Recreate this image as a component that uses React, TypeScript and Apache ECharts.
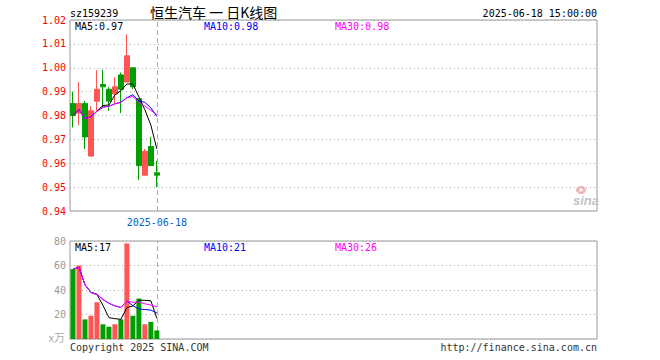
import React, { useEffect, useRef } from "react";
import * as echarts from "echarts";

const dates = ["2025-05-28", "2025-05-29", "2025-05-30", "2025-06-03", "2025-06-04", "2025-06-05", "2025-06-06", "2025-06-09", "2025-06-10", "2025-06-11", "2025-06-12", "2025-06-13", "2025-06-16", "2025-06-17", "2025-06-18"];
const opens = [0.985, 0.981, 0.985, 0.963, 0.986, 0.993, 0.991, 0.989, 0.997, 0.994, 1.0, 0.987, 0.955, 0.967, 0.956];
const closes = [0.98, 0.985, 0.971, 0.982, 0.991, 0.992, 0.986, 0.992, 0.991, 1.005, 0.992, 0.959, 0.965, 0.959, 0.955];
const lows = [0.975, 0.976, 0.966, 0.963, 0.982, 0.983, 0.982, 0.985, 0.981, 0.994, 0.991, 0.953, 0.955, 0.959, 0.95];
const highs = [0.99, 0.994, 0.986, 0.984, 0.999, 0.999, 0.992, 0.996, 0.998, 1.014, 1.0, 0.987, 0.966, 0.971, 0.961];
const volumes = [57, 60, 16, 19, 30, 12, 10, 12, 16, 78, 19, 33, 12, 14, 7];
const priceTicks = { min: 0.94, max: 1.02, interval: 0.01 };
const volTicks = { min: 0, max: 80, interval: 20 };
const TOTAL_SLOTS = 88;
const markDate = "2025-06-18";

const RED = "#ff5555";
const GREEN = "#009f00";
const MONO = "'DejaVu Sans Mono', monospace";

function movingAvg(arr: number[], n: number): number[] {
  return arr.map((_, i) => {
    const start = Math.max(0, i - n + 1);
    let s = 0;
    for (let k = start; k <= i; k++) s += arr[k];
    return s / (i - start + 1);
  });
}

export default function App() {
  const ref = useRef<HTMLDivElement>(null);
  useEffect(() => {
    if (!ref.current) return;
    const chart = echarts.init(ref.current, null, { renderer: "svg" });
    const cats = dates.concat(Array.from({ length: TOTAL_SLOTS - dates.length }, (_, i) => "p" + i));
    const candles = dates.map((_, i) => [opens[i], closes[i], lows[i], highs[i]]);
    const ma5 = movingAvg(closes, 5);
    const ma10 = movingAvg(closes, 10);
    const ma30 = movingAvg(closes, 30);
    const vma5 = movingAvg(volumes, 5);
    const vma10 = movingAvg(volumes, 10);
    const vma30 = movingAvg(volumes, 30);
    const last = dates.length - 1;
    const volBars = volumes.map((v, i) => ({
      value: v,
      itemStyle: { color: closes[i] >= opens[i] ? RED : GREEN },
    }));
    const dotted = { show: true, lineStyle: { color: "#aaa", type: [1, 3] as any, width: 1 } };
    const markLine = {
      symbol: "none",
      silent: true,
      z: 0,
      label: { show: false },
      lineStyle: { color: "#b0b0b0", type: [5, 3] as any, width: 1 },
      data: [{ xAxis: markDate }],
    };
    const lineS = (data: number[], color: string, xi: number) => ({
      type: "line",
      data,
      xAxisIndex: xi,
      yAxisIndex: xi,
      showSymbol: false,
      symbol: "none",
      lineStyle: { color, width: 1 },
      z: 3,
    });
    const txt = (text: string, x: number, y: number, fill: string, font = `10px ${MONO}`, align = "left") => ({
      type: "text",
      x,
      y,
      silent: true,
      style: { text, fill, font, textAlign: align, textVerticalAlign: "middle" },
    });

    chart.setOption({
      animation: false,
      backgroundColor: "#fff",
      grid: [
        { left: 70, right: 63, top: 20, height: 191, show: true, borderColor: "#999", borderWidth: 1, backgroundColor: "transparent" },
        { left: 70, right: 63, top: 241, height: 98, show: true, borderColor: "#999", borderWidth: 1, backgroundColor: "transparent" },
      ],
      xAxis: [
        {
          type: "category",
          gridIndex: 0,
          data: cats,
          boundaryGap: true,
          axisLine: { show: false },
          axisTick: { show: false },
          splitLine: { show: false },
          axisLabel: {
            interval: (_i: number, v: string) => v === markDate,
            color: "#0066cc",
            fontFamily: MONO,
            fontSize: 10,
            margin: 6,
          },
        },
        {
          type: "category",
          gridIndex: 1,
          data: cats,
          boundaryGap: true,
          axisLine: { show: false },
          axisTick: { show: false },
          splitLine: { show: false },
          axisLabel: { show: false },
        },
      ],
      yAxis: [
        {
          type: "value",
          gridIndex: 0,
          min: priceTicks.min,
          max: priceTicks.max,
          interval: priceTicks.interval,
          axisLine: { show: false },
          axisTick: { show: false },
          splitLine: dotted,
          axisLabel: { color: "#ff0000", fontFamily: MONO, fontSize: 10, margin: 4, formatter: (v: number) => v.toFixed(2) },
        },
        {
          type: "value",
          gridIndex: 1,
          min: volTicks.min,
          max: volTicks.max,
          interval: volTicks.interval,
          axisLine: { show: false },
          axisTick: { show: false },
          splitLine: dotted,
          axisLabel: { color: "#999", fontFamily: MONO, fontSize: 10, margin: 4, formatter: (v: number) => (v === 0 ? "" : String(v)) },
        },
      ],
      series: [
        {
          type: "candlestick",
          xAxisIndex: 0,
          yAxisIndex: 0,
          data: candles,
          barWidth: 5,
          itemStyle: { color: RED, color0: GREEN, borderColor: RED, borderColor0: GREEN, borderWidth: 1 },
          markLine,
          z: 2,
        },
        lineS(ma5, "#000", 0),
        lineS(ma10, "#0000ff", 0),
        lineS(ma30, "#ff00ff", 0),
        {
          type: "bar",
          xAxisIndex: 1,
          yAxisIndex: 1,
          data: volBars,
          barWidth: 5,
          markLine,
          z: 2,
        },
        lineS(vma5, "#000", 1),
        lineS(vma10, "#0000ff", 1),
        lineS(vma30, "#ff00ff", 1),
      ],
      graphic: [
        txt("sz159239", 70, 13, "#000"),
        txt("恒生汽车 一 日K线图", 150, 12, "#000", "14px 'Noto Sans CJK SC'"),
        txt("2025-06-18 15:00:00", 597, 13, "#000", `10px ${MONO}`, "right"),
        txt(`MA5:${ma5[last].toFixed(2)}`, 75, 26, "#000"),
        txt(`MA10:${ma10[last].toFixed(2)}`, 204, 26, "#0000ff"),
        txt(`MA30:${ma30[last].toFixed(2)}`, 335, 26, "#ff00ff"),
        txt(`MA5:${vma5[last].toFixed(0)}`, 75, 247, "#000"),
        txt(`MA10:${vma10[last].toFixed(0)}`, 204, 247, "#0000ff"),
        txt(`MA30:${vma30[last].toFixed(0)}`, 335, 247, "#ff00ff"),
        txt("x万", 65, 337, "#aaa", "11px 'Noto Sans CJK SC'", "right"),
        txt("Copyright 2025 SINA.COM", 70, 347, "#333"),
        txt("http://finance.sina.com.cn", 597, 347, "#333", `10px ${MONO}`, "right"),
        { type: "ellipse", silent: true, shape: { cx: 581, cy: 190, rx: 5, ry: 4 }, style: { fill: "#f3b5b5" } },
        { type: "circle", silent: true, shape: { cx: 581, cy: 190, r: 1.6 }, style: { fill: "#fff" } },
        txt("sina", 573, 200, "#c4c4c4", `italic bold 13px Arial, 'Liberation Sans', sans-serif`),
      ],
    });
    return () => chart.dispose();
  }, []);
  return <div ref={ref} style={{ position: "fixed", left: 0, top: 0, width: 660, height: 360 }} />;
}
